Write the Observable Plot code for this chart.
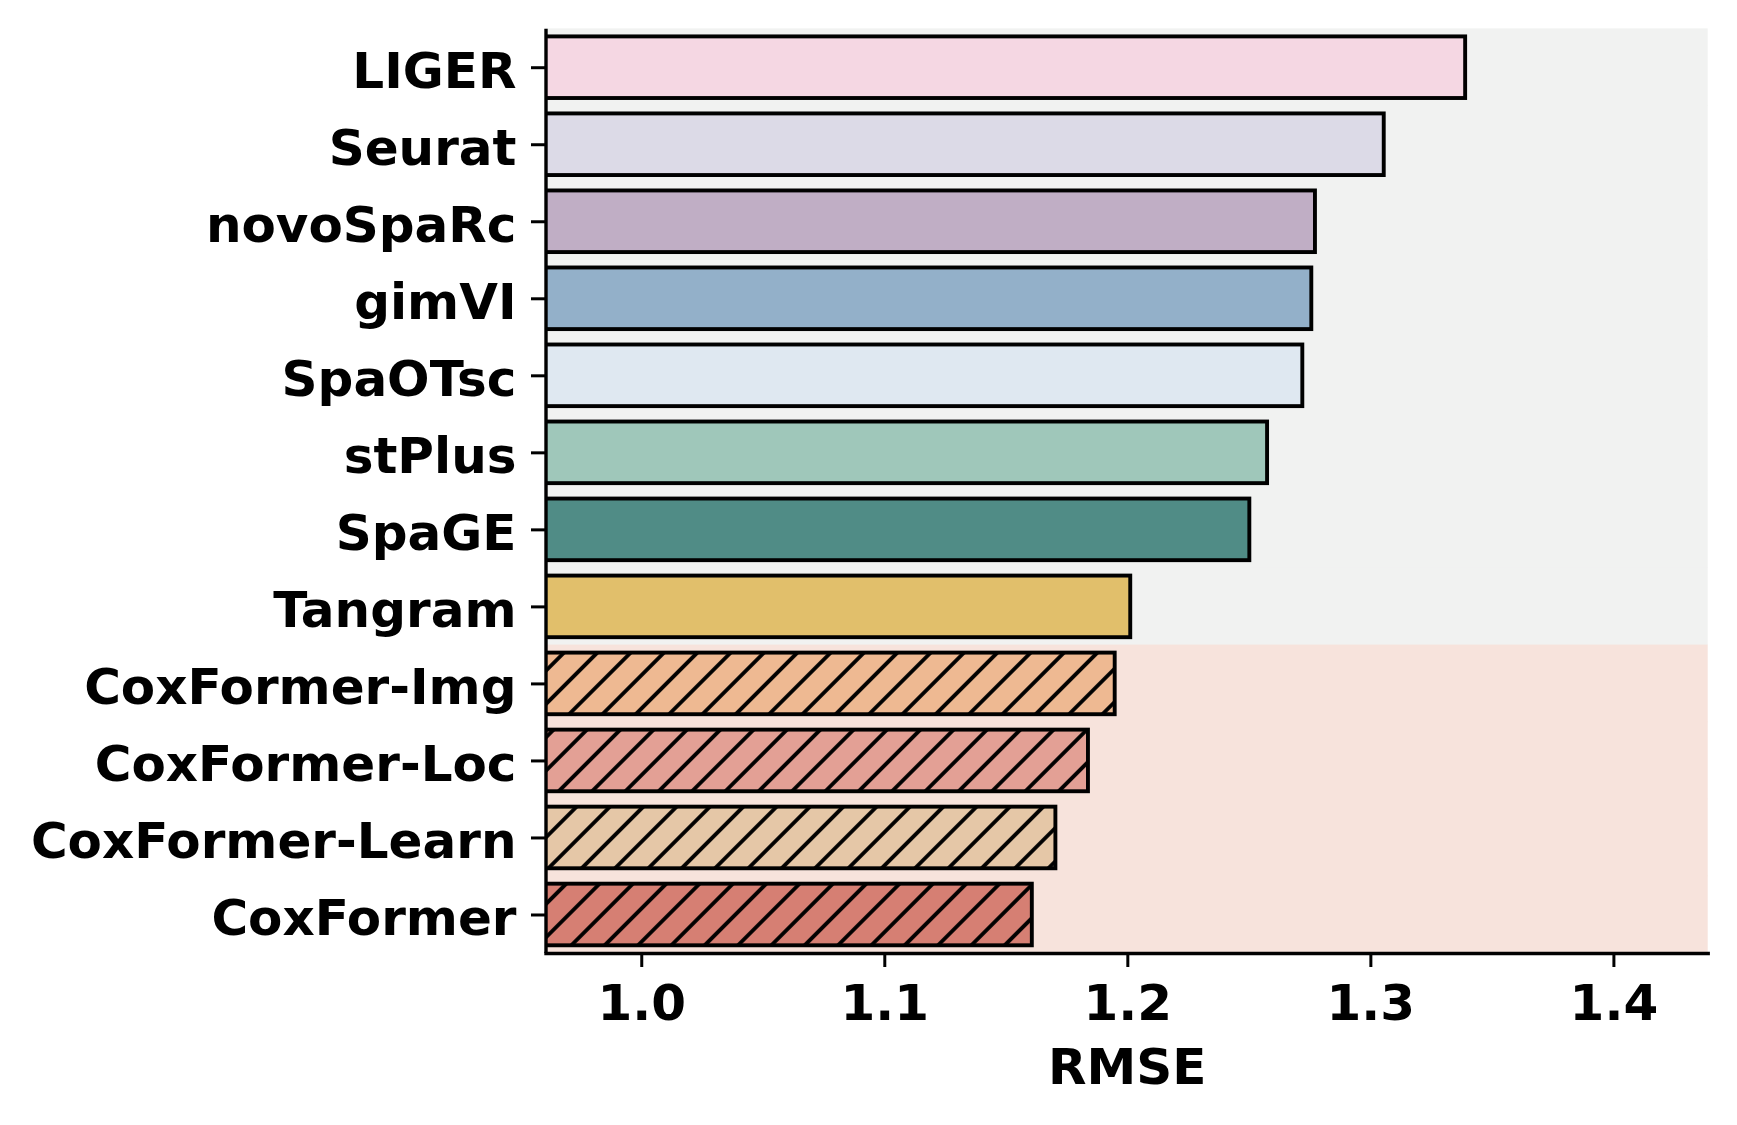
<!DOCTYPE html>
<html>
<head>
<meta charset="utf-8">
<script src="https://cdn.jsdelivr.net/npm/d3@7"></script>
<script src="https://cdn.jsdelivr.net/npm/@observablehq/plot@0.6"></script>
<style>
  html, body { margin: 0; padding: 0; background: #ffffff; }
  #chart { width: 1737px; height: 1125px; }
</style>
</head>
<body>
<div id="chart"></div>
<script>
// ---- data ----
const methods = ["LIGER", "Seurat", "novoSpaRc", "gimVI", "SpaOTsc", "stPlus", "SpaGE", "Tangram",
                 "CoxFormer-Img", "CoxFormer-Loc", "CoxFormer-Learn", "CoxFormer"];
const rmse = [1.339, 1.3055, 1.2772, 1.2757, 1.272, 1.2575, 1.2502, 1.2012, 1.1948, 1.1838, 1.1704, 1.1607];
const family = ["baseline", "baseline", "baseline", "baseline", "baseline", "baseline", "baseline", "baseline",
                "ours", "ours", "ours", "ours"];
const xTicks = [1.0, 1.1, 1.2, 1.3, 1.4];

const data = methods.map((m, i) => ({method: m, rmse: rmse[i], family: family[i]}));

// ---- layout ----
const W = 1737, H = 1125;
const mt = 28.7, mb = 172, ml = 545.5, mr = 29.3;
const xDomain = [0.9606, 1.4388];
const step = (H - mt - mb) / methods.length;
const barInset = 0.1 * step;

const plot = Plot.plot({
  width: W,
  height: H,
  marginTop: mt,
  marginBottom: mb,
  marginLeft: ml,
  marginRight: mr,
  style: {fontFamily: "DejaVu Sans", fontWeight: "bold", fontSize: "50px", color: "#000", background: "#fff"},
  x: {domain: xDomain},
  y: {domain: methods, padding: 0, round: false},
  color: {
    domain: methods,
    range: ["#f5d7e3", "#dcdae7", "#c0aec5", "#93b0c9", "#dfe8f1", "#9fc7ba", "#508c86", "#e1bf6b",
            "#eeb992", "#e3a095", "#e5c7a7", "#d67f73"]
  },
  marks: [
    // background shading
    Plot.barX(data.filter(d => d.family === "baseline"), {
      x1: xDomain[0], x2: xDomain[1], y: "method", fill: "#f1f2f1", insetTop: -0.3, insetBottom: -0.3
    }),
    Plot.barX(data.filter(d => d.family === "ours"), {
      x1: xDomain[0], x2: xDomain[1], y: "method", fill: "#f7e3dc", insetTop: -0.3, insetBottom: -0.3
    }),
    // bars
    Plot.barX(data, {x1: 0, x2: "rmse", y: "method", fill: "method", clip: true,
                     insetTop: barInset, insetBottom: barInset}),
    Plot.barX(data.filter(d => d.family === "ours"), {
      x1: 0, x2: "rmse", y: "method", fill: "url(#hatch)", clip: true,
      insetTop: barInset, insetBottom: barInset
    }),
    Plot.barX(data, {
      x1: 0, x2: "rmse", y: "method", fill: "none", stroke: "#000", strokeWidth: 3.9, clip: true,
      insetTop: barInset, insetBottom: barInset
    }),
    // axes
    Plot.axisY({tickSize: 14.5, strokeWidth: 3, tickFormat: () => "", label: null}),
    Plot.axisY({tickSize: 0, tickPadding: 29.5, dy: 4, label: null}),
    Plot.axisX({ticks: xTicks, tickFormat: ".1f", tickSize: 14, tickPadding: 17, strokeWidth: 3,
                label: "RMSE", labelAnchor: "center", labelArrow: "none", labelOffset: 130}),
    Plot.ruleX([xDomain[0]], {stroke: "#000", strokeWidth: 3.4}),
    Plot.frame({anchor: "bottom", stroke: "#000", strokeWidth: 3.4})
  ]
});

// hatch pattern definition ("//")
const ns = "http://www.w3.org/2000/svg";
const defs = document.createElementNS(ns, "defs");
const pat = document.createElementNS(ns, "pattern");
const sp = 23.57;
pat.setAttribute("id", "hatch");
pat.setAttribute("patternUnits", "userSpaceOnUse");
pat.setAttribute("width", sp);
pat.setAttribute("height", sp);
pat.setAttribute("patternTransform", "rotate(45)");
const ln = document.createElementNS(ns, "line");
ln.setAttribute("x1", sp / 2);
ln.setAttribute("x2", sp / 2);
ln.setAttribute("y1", -2);
ln.setAttribute("y2", sp + 2);
ln.setAttribute("stroke", "#000");
ln.setAttribute("stroke-width", 3.8);
pat.appendChild(ln);
defs.appendChild(pat);
plot.insertBefore(defs, plot.firstChild);

document.getElementById("chart").appendChild(plot);
</script>
</body>
</html>
